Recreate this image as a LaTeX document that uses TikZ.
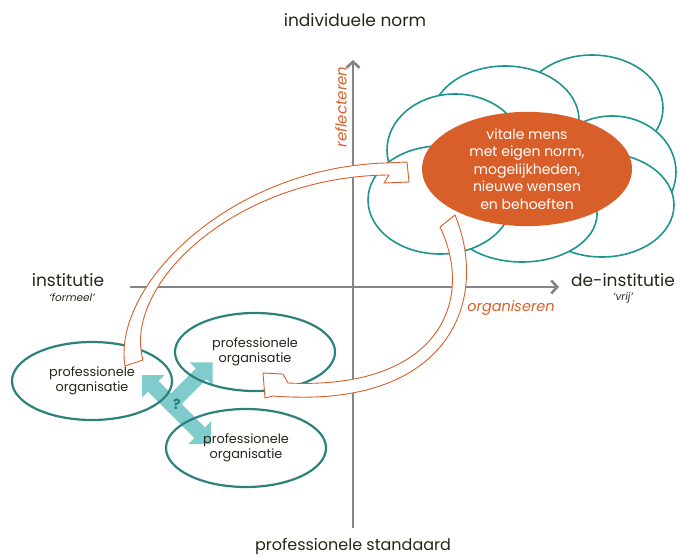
\documentclass[tikz,border=0pt]{standalone}
\usepackage{fontspec}
\setmainfont{Poppins}
\usetikzlibrary{arrows.meta,shapes.geometric}
\definecolor{axisgray}{HTML}{858585}
\definecolor{cloudteal}{HTML}{1E958F}
\definecolor{orgteal}{HTML}{2C817D}
\definecolor{orng}{HTML}{D95F2A}
\definecolor{lteal}{HTML}{72C6C6}
\definecolor{qteal}{HTML}{1F7F80}
\definecolor{txt}{HTML}{26261A}
\begin{document}
\begin{tikzpicture}[x=1pt,y=-1pt,
  axisline/.style={draw=axisgray,line width=2.6pt},
  cloudell/.style={draw=cloudteal,line width=1.6pt,fill=white},
  orgell/.style={ellipse,draw=orgteal,line width=2.2pt,inner sep=0pt,
    minimum width=160pt,minimum height=78pt,align=center,text=txt,
    font=\fontsize{12.8}{15}\selectfont},
  blockarrow/.style={draw=orng,fill=white,line width=0.9pt,line join=miter},
  axlabel/.style={text=txt,font=\fontsize{17}{20}\selectfont,inner sep=0pt},
  sublabel/.style={text=txt,font=\fontsize{10.5}{12}\selectfont\itshape,inner sep=0pt},
  verb/.style={text=orng,font=\fontsize{14.5}{17}\selectfont\itshape,inner sep=0pt}]
\useasboundingbox (0,0) rectangle (680,559);

% axes
\coordinate (vbot) at (353,528);
\coordinate (vtop) at (353,60);
\coordinate (hleft) at (130,287);
\coordinate (hright) at (559,287);
\draw[axisline,-{Straight Barb[length=6pt,width=13pt]}] (vbot) -- (vtop);
\draw[axisline,-{Straight Barb[length=6pt,width=13pt]}] (hleft) -- (hright);

% axis labels
\node[axlabel] (top) at (355,20) {individuele norm};
\node[axlabel,font=\fontsize{16}{19}\selectfont] (bottom) at (353,546) {professionele standaard};
\node[axlabel] (inst) at (68,280) {institutie};
\node[sublabel] (formeel) at (72,298) {‘formeel’};
\node[axlabel] (deinst) at (623,280) {de-institutie};
\node[sublabel] (vrij) at (623,298) {‘vrij’};
\node[verb,font=\fontsize{15}{17}\selectfont\itshape,rotate=90] (refl) at (341,107) {reflecteren};
\node[verb] (org) at (511,308) {organiseren};

% cloud
\foreach \cx/\cy/\rx/\ry in {592/108/71/53, 612/172/64/56, 602/205/72/52, 522/214/75/48, 505/120/74/54, 455/150/68/56, 440/200/72/54}{
  \draw[cloudell] (\cx,\cy) ellipse [x radius=\rx, y radius=\ry];
}
\node[ellipse,fill=orng,inner sep=0pt,minimum width=210pt,minimum height=112pt,
  align=center,text=white,font=\fontsize{14}{17.5}\selectfont] (vital) at (527,169)
  {vitale mens\\met eigen norm,\\mogelijkheden,\\nieuwe wensen\\en behoeften};

% teal arrows (under the organisation ellipses)
\begin{scope}[shift={(171,404)},x={(0.7071pt,-0.7071pt)},y={(0.7071pt,0.7071pt)}]
  \fill[lteal,opacity=0.9]
    (-41,0) -- (-25,16) -- (-25,7.5) -- (-7.5,7.5) -- (-7.5,42.7) -- (-16,42.7) -- (0,58.7)
    -- (16,42.7) -- (7.5,42.7) -- (7.5,7.5) -- (40.6,7.5) -- (40.6,16) -- (56.6,0)
    -- (40.6,-16) -- (40.6,-7.5) -- (-25,-7.5) -- (-25,-16) -- cycle;
\end{scope}
\node[text=qteal,font=\fontsize{14}{16}\selectfont\bfseries,inner sep=0pt] (q) at (177,404) {?};

% organisation ellipses
\node[orgell] (p1) at (92,381) {professionele\\organisatie};
\node[orgell] (p2) at (255,352) {professionele\\organisatie};
\node[orgell] (p3) at (246,448) {professionele\\organisatie};

% curved block arrows
\draw[blockarrow] (125,366) .. controls (112,285) and (230,168) .. (385,163)
  -- (407,162) -- (409,182) -- (384,183) -- (389,175)
  .. controls (235,176) and (122,285) .. (143,360) -- cycle;
\draw[blockarrow] (455,215) .. controls (490,300) and (450,410) .. (273,396)
  -- (265,398) -- (263,373) -- (283,374) -- (288,383)
  .. controls (440,390) and (475,300) .. (440,227) -- cycle;
\end{tikzpicture}
\end{document}
